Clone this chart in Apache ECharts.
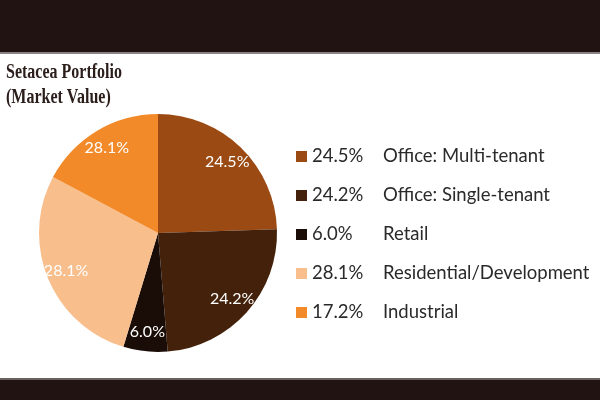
<!DOCTYPE html>
<html>
<head>
<meta charset="utf-8">
<script src="https://cdn.jsdelivr.net/npm/echarts@6/dist/echarts.min.js"></script>
<style>html,body{margin:0;padding:0;background:#fff}#c{width:600px;height:400px}</style>
</head>
<body>
<div id="c"></div>
<script>
var categories = ['Office: Multi-tenant', 'Office: Single-tenant', 'Retail', 'Residential/Development', 'Industrial'];
var values = [24.5, 24.2, 6.0, 28.1, 17.2];
var legendPercents = ['24.5%', '24.2%', '6.0%', '28.1%', '17.2%'];
var sliceLabels = ['24.5%', '24.2%', '6.0%', '28.1%', '28.1%'];
var colors = ['#9a4a12', '#43210a', '#1a0c06', '#f8be8c', '#f28a2a'];
var titleLines = ['Setacea Portfolio', '(Market Value)'];

var chart = echarts.init(document.getElementById('c'));
var data = categories.map(function (c, i) { return { name: c, value: values[i], itemStyle: { color: colors[i] } }; });
var labelData = categories.map(function (c, i) { return { name: c, value: values[i] }; });

chart.setOption({
  animation: false,
  graphic: [
    { type: 'rect', left: 0, top: 0, shape: { width: 600, height: 52 }, style: { fill: '#221313' } },
    { type: 'rect', left: 0, top: 52, shape: { width: 600, height: 2 }, style: { fill: '#8a8282' } },
    { type: 'rect', left: 0, top: 378, shape: { width: 600, height: 2 }, style: { fill: '#6a6060' } },
    { type: 'rect', left: 0, top: 380, shape: { width: 600, height: 20 }, style: { fill: '#221313' } },
    { type: 'text', x: 6, y: 62, scaleY: 1.35, style: { text: titleLines[0], font: 'bold 16px "Liberation Serif"', fill: '#2a1d1a' } },
    { type: 'text', x: 6, y: 87, scaleY: 1.35, style: { text: titleLines[1], font: 'bold 16px "Liberation Serif"', fill: '#2a1d1a' } }
  ],
  legend: {
    orient: 'vertical',
    left: 291,
    top: 142,
    itemWidth: 11,
    itemHeight: 11,
    itemGap: 20,
    icon: 'rect',
    selectedMode: false,
    data: categories,
    formatter: function (name) {
      var i = categories.indexOf(name);
      return '{p|' + legendPercents[i] + '}{n|' + name + '}';
    },
    textStyle: {
      rich: {
        p: { width: 71, fontSize: 18.5, lineHeight: 19, fontFamily: 'Lato', color: '#2a2a2a' },
        n: { fontSize: 18.5, lineHeight: 19, fontFamily: 'Lato', color: '#2a2a2a' }
      }
    }
  },
  series: [
    {
      type: 'pie',
      center: [158, 233],
      radius: [0, 119],
      startAngle: 90,
      clockwise: true,
      silent: true,
      label: { show: false },
      labelLine: { show: false },
      data: data
    },
    {
      type: 'pie',
      center: [158, 233],
      radius: [74, 119],
      startAngle: 90,
      clockwise: true,
      silent: true,
      itemStyle: { color: 'rgba(0,0,0,0)' },
      label: {
        show: true,
        position: 'inside',
        color: '#fff',
        fontSize: 16,
        fontFamily: 'Lato',
        formatter: function (p) { return sliceLabels[p.dataIndex]; }
      },
      labelLine: { show: false },
      data: labelData
    }
  ]
});
</script>
</body>
</html>
